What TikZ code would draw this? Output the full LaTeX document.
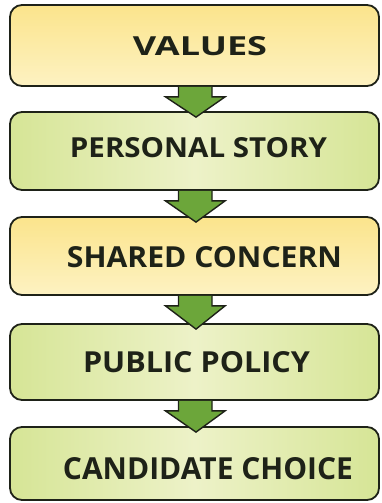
\documentclass[tikz,border=0pt]{standalone}
\usepackage{fontspec}
\setmainfont{Open Sans}
\usetikzlibrary{calc}
\definecolor{yelA}{HTML}{FBE48C}
\definecolor{yelB}{HTML}{FDF2C2}
\definecolor{grnA}{HTML}{D6E596}
\definecolor{grnB}{HTML}{EDF2C8}
\definecolor{arrowgreen}{HTML}{6CA63A}
\definecolor{inkdark}{HTML}{1E2218}
\tikzset{
  box/.style={draw=inkdark, line width=1.8pt, rounded corners=12pt, minimum width=369pt, inner sep=0pt},
  yelbox/.style={box, top color=yelA, bottom color=yelB},
  grnbox/.style={box, left color=grnA, right color=grnA, middle color=grnB},
  lbl/.style={inner sep=0pt, text=inkdark, font=\bfseries},
  flow/.style={draw=inkdark, line width=1.4pt, fill=arrowgreen, line join=miter}
}
% block arrow from the bottom of node #1 to a tip just inside the top of node #2
\newcommand{\flowarrow}[2]{%
  \filldraw[flow] ($(#1.south)+(-16,0)$) -- ++(0,10) -- ++(-13,0)
    -- ($(#2.north)+(1.5,6)$) -- ($(#1.south)+(30.5,10)$) -- ++(-13,0) -- ($(#1.south)+(17.5,0)$);}
\begin{document}
\begin{tikzpicture}[x=1pt,y=-1pt]
\useasboundingbox (0,0) rectangle (382,503);
\fill[white] (0,0) rectangle (382,503);
\node[yelbox, minimum height=81pt] (b1) at (194.5,45.5) {};
\node[grnbox, minimum height=78pt] (b2) at (194.5,151) {};
\node[yelbox, minimum height=78pt] (b3) at (194.5,256) {};
\node[grnbox, minimum height=76pt] (b4) at (194.5,362) {};
\node[grnbox, minimum height=73pt] (b5) at (194.5,463.5) {};
\node[lbl] (t1) at (200,46) {\resizebox{134pt}{19pt}{VALUES}};
\node[lbl] (t2) at (198.5,148) {\resizebox{257pt}{20pt}{PERSONAL STORY}};
\node[lbl] (t3) at (204.5,257.5) {\resizebox{275pt}{21pt}{SHARED CONCERN}};
\node[lbl] (t4) at (196.5,362.5) {\resizebox{227pt}{21pt}{PUBLIC POLICY}};
\node[lbl] (t5) at (208,469) {\resizebox{290pt}{22pt}{CANDIDATE CHOICE}};
\flowarrow{b1}{b2}
\flowarrow{b2}{b3}
\flowarrow{b3}{b4}
\flowarrow{b4}{b5}
\end{tikzpicture}
\end{document}
